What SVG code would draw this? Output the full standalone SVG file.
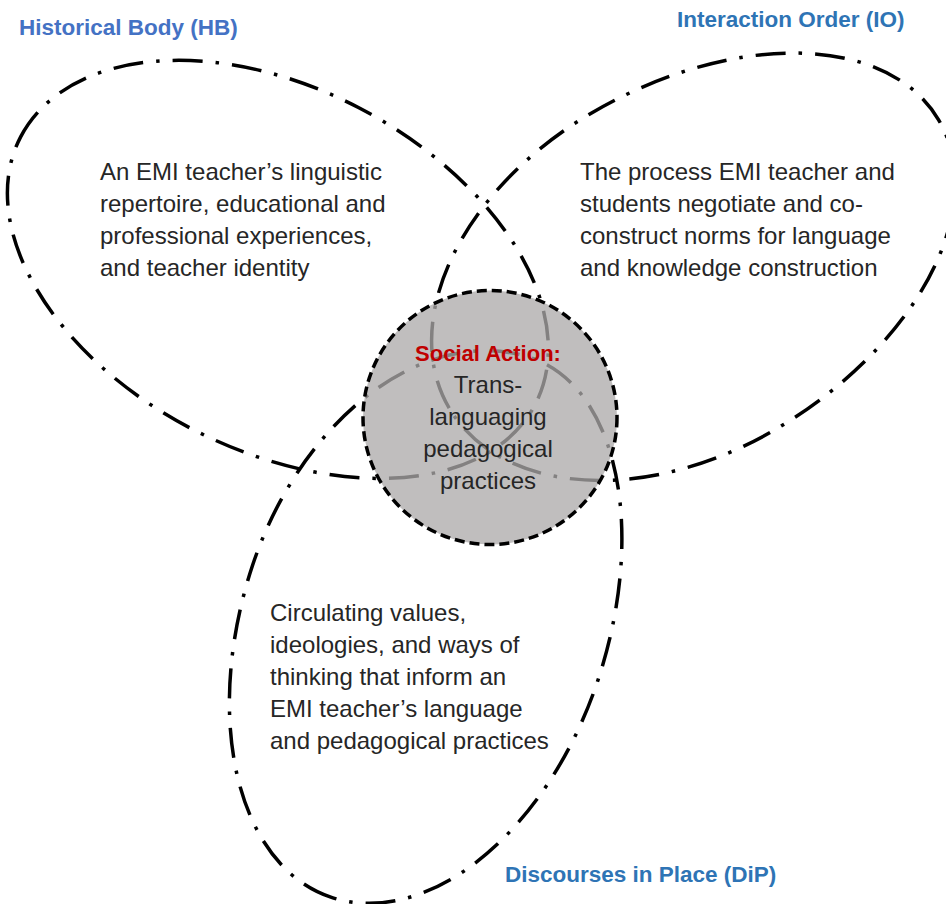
<svg xmlns="http://www.w3.org/2000/svg" width="946" height="904" viewBox="0 0 946 904">
<style>
.loop{fill:none;stroke:#000;stroke-width:3.5;stroke-dasharray:30 13 3.5 13}
.head{font-family:"Liberation Sans",Arial,sans-serif;font-weight:bold;font-size:22.5px}
.body{font-family:"Liberation Sans",Arial,sans-serif;font-size:24px;fill:#262626}
.ctr{text-anchor:middle}
</style>
<rect width="946" height="904" fill="#fff"/>
<g id="hb">
<path class="loop" transform="translate(283.2 273.5) rotate(27.5)" d="M -296 0 A 286 182 0 0 1 -10 -182 A 294 182 0 0 1 284 0 A 294 180 0 0 1 -10 180 A 286 180 0 0 1 -296 0 Z"/>
<text class="head" x="19" y="35" fill="#4472C4">Historical Body (HB)</text>
<text class="body" x="100" y="180">An EMI teacher’s linguistic</text>
<text class="body" x="100" y="212">repertoire, educational and</text>
<text class="body" x="100" y="244">professional experiences,</text>
<text class="body" x="100" y="276">and teacher identity</text>
</g>
<g id="io">
<path class="loop" transform="translate(687 268) rotate(-30.5)" d="M -276 0 A 271 182 0 0 1 -5 -182 A 297 182 0 0 1 292 0 A 297 184 0 0 1 -5 184 A 271 184 0 0 1 -276 0 Z"/>
<text class="head" x="677" y="27" fill="#2E74B5">Interaction Order (IO)</text>
<text class="body" x="580" y="180">The process EMI teacher and</text>
<text class="body" x="580" y="212">students negotiate and co-</text>
<text class="body" x="580" y="244">construct norms for language</text>
<text class="body" x="580" y="276">and knowledge construction</text>
</g>
<g id="dip">
<path class="loop" transform="translate(425.5 612.5) rotate(-71.6)" d="M -300 0 A 290 179 0 0 1 -10 -179 A 285 199 0 0 1 275 20 A 285 165 0 0 1 -10 185 A 290 185 0 0 1 -300 0 Z"/>
<text class="head" x="505" y="882" fill="#2E74B5">Discourses in Place (DiP)</text>
<text class="body" x="270" y="621">Circulating values,</text>
<text class="body" x="270" y="653">ideologies, and ways of</text>
<text class="body" x="270" y="685">thinking that inform an</text>
<text class="body" x="270" y="717">EMI teacher’s language</text>
<text class="body" x="270" y="749">and pedagogical practices</text>
</g>
<g id="connectors"></g>
<g id="social-action">
<circle cx="490" cy="417.5" r="127" fill="#ACA9A9" fill-opacity="0.76" stroke="#000" stroke-width="3.5" stroke-dasharray="10 5"/>
<text class="head ctr" x="488" y="361" fill="#C00000" style="font-size:22px">Social Action:</text>
<text class="body ctr" x="488" y="393">Trans-</text>
<text class="body ctr" x="488" y="425">languaging</text>
<text class="body ctr" x="488" y="457">pedagogical</text>
<text class="body ctr" x="488" y="489">practices</text>
</g>
</svg>
